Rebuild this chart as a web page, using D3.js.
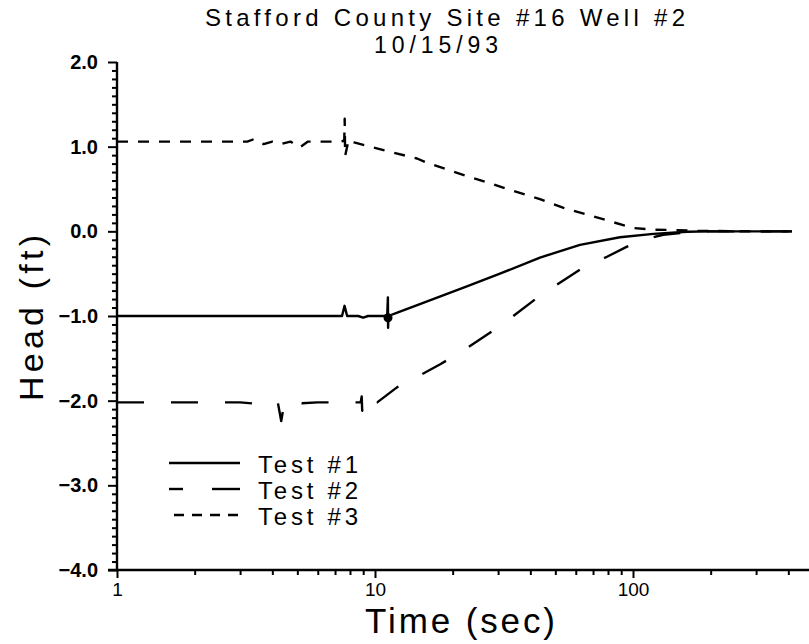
<!DOCTYPE html>
<html>
<head>
<meta charset="utf-8">
<script src="https://cdn.jsdelivr.net/npm/d3@7/dist/d3.min.js"></script>
<style>
  html, body { margin: 0; padding: 0; background: #fff; }
  svg { display: block; }
  text { font-family: "Liberation Sans", Arial, sans-serif; fill: #000; }
</style>
</head>
<body>
<svg id="chart" width="809" height="644"></svg>
<script>
// Slug test recovery, Stafford County Site #16, Well #2 (10/15/93)
const titleLines = ["Stafford County Site #16 Well #2", "10/15/93"];
const xLabel = "Time (sec)";
const yLabel = "Head (ft)";

const xMajorTicks = [1, 10, 100];
const xMinorTicks = [2, 3, 4, 5, 6, 7, 8, 9, 20, 30, 40, 50, 60, 70, 80, 90, 200, 300, 400, 500];
const yMajorTicks = [-4, -3, -2, -1, 0, 1, 2];

const seriesNames = ["Test #1", "Test #2", "Test #3"];

// Test #1 (solid)
const test1Time = [1, 2, 4, 6, 7.45, 7.62, 7.8, 8.6, 9.0, 9.4, 11.15, 11.22, 11.24, 11.27, 12.2, 16.8, 22.7, 30.5, 43.6, 62.3, 89, 120, 162, 200, 300, 413];
const test1Head = [-1.0, -1.0, -1.0, -1.0, -1.0, -0.88, -1.0, -1.0, -1.02, -1.0, -1.0, -0.78, -1.14, -1.0, -0.96, -0.80, -0.65, -0.50, -0.31, -0.16, -0.07, -0.03, -0.005, 0, 0, 0];
// marked reading on Test #1
const test1MarkTime = [11.23];
const test1MarkHead = [-1.02];

// Test #2 (long dash)
const test2Time = [1, 3.0, 3.6, 4.2, 4.33, 4.45, 4.7, 5.2, 6, 8.8, 8.88, 8.92, 8.96, 9.4, 9.55, 9.7, 10.2, 12.2, 14.55, 17.9, 21.4, 30.5, 43.6, 64, 79.3, 94.8, 113, 131, 181, 300, 413];
const test2Head = [-2.02, -2.02, -2.04, -2.02, -2.24, -2.03, -2.0, -2.03, -2.02, -2.02, -1.95, -2.12, -2.02, -2.0, -1.96, -2.02, -2.02, -1.84, -1.72, -1.57, -1.43, -1.12, -0.76, -0.43, -0.30, -0.18, -0.09, -0.04, 0, 0, 0];

// Test #3 (short dash)
const test3Time = [1, 3.2, 3.4, 3.7, 4.0, 4.3, 4.7, 5.1, 5.5, 7.3, 7.6, 7.63, 7.66, 7.9, 8.3, 9.3, 11.1, 14.55, 15.9, 20.8, 27.1, 34.2, 43.6, 53.5, 66.1, 81.2, 100, 119.5, 143, 181, 300, 413];
const test3Head = [1.06, 1.06, 1.09, 1.03, 1.06, 1.03, 1.06, 0.99, 1.06, 1.06, 1.07, 1.33, 0.89, 1.08, 1.05, 1.01, 0.95, 0.86, 0.81, 0.69, 0.58, 0.48, 0.38, 0.28, 0.20, 0.12, 0.04, 0.02, 0.015, 0.005, 0, 0];

const seriesTimes = [test1Time, test2Time, test3Time];
const seriesHeads = [test1Head, test2Head, test3Head];
const seriesDash = [null, "27,27", "11,10"];

const svg = d3.select("#chart");

const x = d3.scaleLog().domain([1, 500]).range([117, 117 + 258 * Math.log10(500)]);
const y = d3.scaleLinear().domain([-4, 2]).range([570, 62]);

// Title
svg.append("text").attr("x", 445).attr("y", 26).attr("text-anchor", "middle")
  .attr("font-size", 24).attr("textLength", 480).attr("lengthAdjust", "spacing")
  .text(titleLines[0]);
svg.append("text").attr("x", 436).attr("y", 53).attr("text-anchor", "middle")
  .attr("font-size", 23).attr("textLength", 124).attr("lengthAdjust", "spacing")
  .text(titleLines[1]);

// Axes
const axisStroke = g => {
  g.selectAll("path, line").attr("stroke", "#000").attr("stroke-width", 2);
  g.select(".domain").remove();
};

const xAxisG = svg.append("g").attr("transform", "translate(0,570)");
xAxisG.append("g").call(d3.axisBottom(x).tickValues(xMinorTicks).tickSize(5).tickFormat(""))
  .call(axisStroke);
xAxisG.append("g").call(d3.axisBottom(x).tickValues(xMajorTicks).tickSize(8).tickPadding(5).tickFormat(d3.format("d")))
  .call(axisStroke)
  .call(g => g.selectAll("text").attr("font-size", 19).attr("font-family", "Liberation Sans, Arial, sans-serif"));
xAxisG.append("line").attr("x1", 108).attr("x2", 809).attr("y1", 0).attr("y2", 0)
  .attr("stroke", "#000").attr("stroke-width", 2.4);

const yMinorTicks = d3.range(-40, 21).map(d => d / 10).filter(d => Math.abs(d - Math.round(d)) > 1e-6);
const yAxisG = svg.append("g").attr("transform", "translate(117,0)");
yAxisG.append("g").call(d3.axisLeft(y).tickValues(yMinorTicks).tickSize(5).tickFormat(""))
  .call(axisStroke);
yAxisG.append("g").call(d3.axisLeft(y).tickValues(yMajorTicks).tickSize(9).tickPadding(10).tickFormat(d3.format(".1f")))
  .call(axisStroke)
  .call(g => g.selectAll("text").attr("font-size", 20).attr("font-weight", "bold").attr("font-family", "Liberation Sans, Arial, sans-serif"));
yAxisG.append("line").attr("x1", 0).attr("x2", 0).attr("y1", y(2)).attr("y2", y(-4))
  .attr("stroke", "#000").attr("stroke-width", 2.4);

// Axis titles
svg.append("text").attr("x", 460).attr("y", 633).attr("text-anchor", "middle")
  .attr("font-size", 35).attr("textLength", 190).attr("lengthAdjust", "spacing")
  .text(xLabel);
svg.append("text").attr("transform", "translate(43,318) rotate(-90)").attr("text-anchor", "middle")
  .attr("font-size", 34).attr("textLength", 166).attr("lengthAdjust", "spacing")
  .text(yLabel);

// Series
const line = d3.line().x(d => x(d[0])).y(d => y(d[1]));
const plot = svg.append("g");
seriesNames.forEach((name, i) => {
  const pts = seriesTimes[i].map((t, k) => [t, seriesHeads[i][k]]);
  plot.append("path").datum(pts)
    .attr("fill", "none").attr("stroke", "#000").attr("stroke-width", 2.4)
    .attr("stroke-linejoin", "round")
    .attr("stroke-dasharray", seriesDash[i])
    .attr("d", line);
});
plot.selectAll("circle.mark").data(test1MarkTime).join("circle")
  .attr("class", "mark")
  .attr("cx", (d, k) => x(d)).attr("cy", (d, k) => y(test1MarkHead[k])).attr("r", 4.5)
  .attr("fill", "#000");

// Legend
const legend = svg.append("g");
const legendX0 = 169, legendX1 = 240, legendY0 = 463, legendStep = 26;
seriesNames.forEach((name, i) => {
  const yy = legendY0 + i * legendStep;
  if (i === 1) {
    legend.append("line").attr("x1", legendX0).attr("x2", 183).attr("y1", yy).attr("y2", yy)
      .attr("stroke", "#000").attr("stroke-width", 2.4);
    legend.append("line").attr("x1", 212).attr("x2", legendX1).attr("y1", yy).attr("y2", yy)
      .attr("stroke", "#000").attr("stroke-width", 2.4);
  } else {
    legend.append("line").attr("x1", i === 2 ? 174 : legendX0).attr("x2", legendX1).attr("y1", yy).attr("y2", yy)
      .attr("stroke", "#000").attr("stroke-width", 2.4)
      .attr("stroke-dasharray", i === 2 ? "10,8" : null);
  }
  legend.append("text").attr("x", 258).attr("y", yy + 10)
    .attr("font-size", 24).attr("textLength", 100).attr("lengthAdjust", "spacing")
    .text(name);
});
</script>
</body>
</html>
